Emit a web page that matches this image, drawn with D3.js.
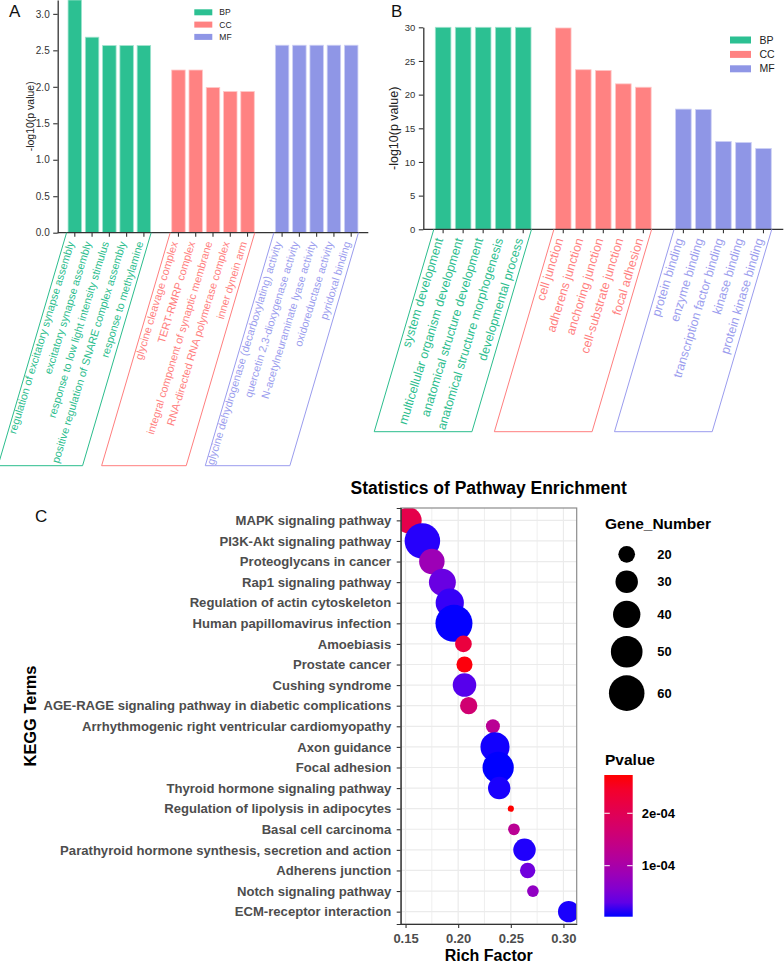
<!DOCTYPE html>
<html>
<head>
<meta charset="utf-8">
<script src="https://cdn.jsdelivr.net/npm/d3@7"></script>
<style>
  body { margin: 0; background: #fff; }
  text { font-family: "Liberation Sans", Arial, sans-serif; }
</style>
</head>
<body>
<div class="svg__graph"></div>
<script>
const width = 784;
const height = 962;

const goGroups = ['BP', 'CC', 'MF'];

// panel A values
const aTermsBP = ['regulation of excitatory synapse assembly', 'excitatory synapse assembly',
  'response to low light intensity stimulus', 'positive regulation of SNARE complex assembly',
  'response to methylamine'];
const aValuesBP = [3.19, 2.68, 2.565, 2.565, 2.565];
const aTermsCC = ['glycine cleavage complex', 'TERT-RMRP complex', 'integral component of synaptic membrane',
  'RNA-directed RNA polymerase complex', 'inner dynein arm'];
const aValuesCC = [2.23, 2.23, 1.99, 1.935, 1.935];
const aTermsMF = ['glycine dehydrogenase (decarboxylating) activity', 'quercetin 2,3-dioxygenase activity',
  'N-acetylneuraminate lyase activity', 'oxidoreductase activity', 'pyridoxal binding'];
const aValuesMF = [2.57, 2.57, 2.57, 2.57, 2.57];
const aYTicks = [0, 0.5, 1.0, 1.5, 2.0, 2.5, 3.0];

// panel B values
const bTermsBP = ['system development', 'multicellular organism development', 'anatomical structure development',
  'anatomical structure morphogenesis', 'developmental process'];
const bValuesBP = [30, 30, 30, 30, 30];
const bTermsCC = ['cell junction', 'adherens junction', 'anchoring junction', 'cell-substrate junction', 'focal adhesion'];
const bValuesCC = [29.9, 23.7, 23.6, 21.6, 21.1];
const bTermsMF = ['protein binding', 'enzyme binding', 'transcription factor binding', 'kinase binding',
  'protein kinase binding'];
const bValuesMF = [17.85, 17.8, 13.05, 12.9, 12.0];
const bYTicks = [0, 5, 10, 15, 20, 25, 30];

// panel C values
const keggTerms = ['MAPK signaling pathway', 'PI3K-Akt signaling pathway', 'Proteoglycans in cancer',
  'Rap1 signaling pathway', 'Regulation of actin cytoskeleton', 'Human papillomavirus infection',
  'Amoebiasis', 'Prostate cancer', 'Cushing syndrome',
  'AGE-RAGE signaling pathway in diabetic complications',
  'Arrhythmogenic right ventricular cardiomyopathy', 'Axon guidance', 'Focal adhesion',
  'Thyroid hormone signaling pathway', 'Regulation of lipolysis in adipocytes', 'Basal cell carcinoma',
  'Parathyroid hormone synthesis, secretion and action', 'Adherens junction', 'Notch signaling pathway',
  'ECM-receptor interaction'];
const richFactor = [0.153, 0.166, 0.175, 0.185, 0.192, 0.196, 0.205, 0.206, 0.206, 0.210,
  0.233, 0.235, 0.238, 0.239, 0.250, 0.253, 0.263, 0.266, 0.271, 0.305];
const geneNumber = [37, 60, 36, 39, 42, 64, 20, 19, 32, 21, 16, 44, 49, 30, 7, 13, 30, 18, 13, 28];
const pValue = [2.1e-4, 7e-6, 8.4e-5, 3.5e-5, 1.1e-5, 3e-6, 2.25e-4, 2.68e-4, 2.4e-5, 1.65e-4,
  1.24e-4, 4e-6, 2.7e-6, 5e-6, 2.73e-4, 1.25e-4, 6e-6, 4e-5, 7e-5, 5e-6];
const cXTicks = [0.15, 0.20, 0.25, 0.30];
const sizeBreaks = [20, 30, 40, 50, 60];
const pBreaks = [1e-4, 2e-4];

const groupColor = { BP: '#2CC092', CC: '#FF8282', MF: '#8F96E6' };
const groupTextColor = { BP: '#2BBD8D', CC: '#FF7E7E', MF: '#9A9CEE' };
const labelAngle = 73;
const bracketAngle = 73.6;

const svg = d3.select('div.svg__graph').append('svg')
  .attr('width', width)
  .attr('height', height)
  .style('background-color', 'white');

const drawGoPanel = (o) => {
  const rows = [];
  goGroups.forEach((g, gi) => {
    o.terms[gi].forEach((t, j) => {
      rows.push({ group: g, term: t, value: o.values[gi][j], slot: gi * 6 + j });
    });
  });

  const x = d3.scaleBand()
    .domain(d3.range(17))
    .range([o.x0, o.x1])
    .paddingInner(0.22)
    .paddingOuter(0.6);
  const y = d3.scaleLinear()
    .domain([0, o.yMax])
    .range([o.yBase, o.yTop]);
  const bw = x.bandwidth();

  const g = svg.append('g');

  g.selectAll('rect.bar')
    .data(rows)
    .enter()
    .append('rect')
    .attr('class', 'bar')
    .attr('x', d => x(d.slot))
    .attr('y', d => y(d.value))
    .attr('width', bw)
    .attr('height', d => o.yBase - y(d.value))
    .attr('fill', d => groupColor[d.group])
    .attr('stroke', d => d3.interpolateRgb(groupColor[d.group], '#ffffff')(0.55))
    .attr('stroke-width', 0.8);

  // y axis
  const yAxis = g.append('g')
    .attr('transform', `translate(${o.x0}, 0)`)
    .call(d3.axisLeft(y)
      .tickValues(o.yTicks)
      .tickSize(4.5)
      .tickPadding(3.5)
      .tickSizeOuter(0)
      .tickFormat(o.yFormat));
  yAxis.select('.domain').attr('stroke', '#333').attr('stroke-width', 1.3);
  yAxis.selectAll('.tick line').attr('stroke', '#333').attr('stroke-width', 1.1);
  yAxis.selectAll('.tick text')
    .attr('fill', '#333')
    .style('font-size', `${o.tickSize}px`)
    .style('font-family', '"Liberation Sans", Arial, sans-serif');

  // x axis line and ticks under the bars
  g.append('line')
    .attr('x1', o.x0)
    .attr('x2', o.x1)
    .attr('y1', o.yBase)
    .attr('y2', o.yBase)
    .attr('stroke', '#333')
    .attr('stroke-width', 1.3);
  g.selectAll('line.xtick')
    .data(rows)
    .enter()
    .append('line')
    .attr('class', 'xtick')
    .attr('x1', d => x(d.slot) + bw / 2)
    .attr('x2', d => x(d.slot) + bw / 2)
    .attr('y1', o.yBase)
    .attr('y2', o.yBase + 4)
    .attr('stroke', '#333')
    .attr('stroke-width', 1.1);

  g.append('text')
    .attr('transform', `translate(${o.titleX}, ${(o.yBase + o.yTop) / 2}) rotate(-90)`)
    .attr('text-anchor', 'middle')
    .attr('dy', '0.35em')
    .attr('fill', '#222')
    .style('font-size', `${o.titleSize}px`)
    .text('-log10(p value)');

  // rotated term labels
  g.selectAll('text.term')
    .data(rows)
    .enter()
    .append('text')
    .attr('class', 'term')
    .attr('transform', d => `translate(${x(d.slot) + bw / 2 + o.labelDx}, ${o.yBase + o.labelDy}) rotate(${-labelAngle})`)
    .attr('text-anchor', 'end')
    .attr('dy', '0.35em')
    .attr('fill', d => groupTextColor[d.group])
    .style('font-size', `${o.labelSize}px`)
    .text(d => d.term);

  // slanted brackets round each group of labels
  const shift = (o.bracketBottom - o.yBase) / Math.tan(bracketAngle * Math.PI / 180);
  goGroups.forEach((grp, gi) => {
    const left = x(gi * 6) - 1.5;
    const right = x(gi * 6 + 4) + bw + 0.5;
    g.append('path')
      .attr('d', `M${left},${o.yBase}L${left - shift},${o.bracketBottom}L${right - shift},${o.bracketBottom}L${right},${o.yBase}`)
      .attr('fill', 'none')
      .attr('stroke', groupTextColor[grp])
      .attr('stroke-width', 1);
  });

  // legend
  const legend = g.append('g');
  goGroups.forEach((grp, gi) => {
    legend.append('rect')
      .attr('x', o.legendX)
      .attr('y', o.legendY + gi * o.legendStep - o.legendRect[1] / 2)
      .attr('width', o.legendRect[0])
      .attr('height', o.legendRect[1])
      .attr('fill', groupColor[grp]);
    legend.append('text')
      .attr('x', o.legendX + o.legendRect[0] + o.legendGap)
      .attr('y', o.legendY + gi * o.legendStep)
      .attr('dy', '0.35em')
      .attr('fill', '#222')
      .style('font-size', `${o.legendSize}px`)
      .text(grp);
  });

  svg.append('text')
    .attr('x', o.letterX)
    .attr('y', 17)
    .attr('fill', '#111')
    .style('font-size', '17px')
    .text(o.letter);
};

drawGoPanel({
  terms: [aTermsBP, aTermsCC, aTermsMF],
  values: [aValuesBP, aValuesCC, aValuesMF],
  yTicks: aYTicks,
  yFormat: d3.format('.1f'),
  x0: 57.7, x1: 368.3, yBase: 232.7, yTop: 0, yMax: 3.19,
  tickSize: 10, titleSize: 10.5, titleX: 30,
  labelSize: 10.8, labelDx: -4, labelDy: 9,
  bracketBottom: 465.7,
  legendX: 194.3, legendY: 12.3, legendStep: 12.3, legendRect: [18, 6], legendGap: 7, legendSize: 8.5,
  letter: 'A', letterX: 9
});

drawGoPanel({
  terms: [bTermsBP, bTermsCC, bTermsMF],
  values: [bValuesBP, bValuesCC, bValuesMF],
  yTicks: bYTicks,
  yFormat: d3.format('d'),
  x0: 423.3, x1: 783.3, yBase: 229.3, yTop: 27.3, yMax: 30,
  tickSize: 9.5, titleSize: 12.5, titleX: 394,
  labelSize: 12.4, labelDx: -4, labelDy: 9,
  bracketBottom: 431.7,
  legendX: 730, legendY: 40, legendStep: 14.4, legendRect: [21, 7], legendGap: 8.5, legendSize: 10.5,
  letter: 'B', letterX: 391
});

// ---------- panel C: KEGG bubble chart ----------
const pan = { left: 400.7, right: 576.7, top: 508, bottom: 924 };

const rfExtent = d3.extent(richFactor);
const rfPad = (rfExtent[1] - rfExtent[0]) * 0.05;
const xC = d3.scaleLinear()
  .domain([rfExtent[0] - rfPad, rfExtent[1] + rfPad])
  .range([pan.left, pan.right]);
const yC = d3.scalePoint()
  .domain(keggTerms)
  .range([pan.top, pan.bottom])
  .padding(0.6);

const geneExtent = d3.extent(geneNumber);
const rScale = d3.scaleLinear()
  .domain([Math.sqrt(geneExtent[0]), Math.sqrt(geneExtent[1])])
  .range([3.1, 18.5]);
const radius = n => rScale(Math.sqrt(n));

const pExtent = d3.extent(pValue);
const colorC = d3.scaleLinear()
  .domain(pExtent)
  .range(['#0000FF', '#FF0000'])
  .interpolate(d3.interpolateLab);

const cG = svg.append('g');

cG.append('rect')
  .attr('x', pan.left)
  .attr('y', pan.top)
  .attr('width', pan.right - pan.left)
  .attr('height', pan.bottom - pan.top)
  .attr('fill', 'white');

// minor grid halfway between the x breaks
const minorX = d3.range(cXTicks.length - 1).map(i => (cXTicks[i] + cXTicks[i + 1]) / 2);
cG.selectAll('line.minor')
  .data(minorX)
  .enter()
  .append('line')
  .attr('x1', d => xC(d))
  .attr('x2', d => xC(d))
  .attr('y1', pan.top)
  .attr('y2', pan.bottom)
  .attr('stroke', '#EBEBEB')
  .attr('stroke-width', 0.8);
cG.selectAll('line.vmajor')
  .data(cXTicks)
  .enter()
  .append('line')
  .attr('x1', d => xC(d))
  .attr('x2', d => xC(d))
  .attr('y1', pan.top)
  .attr('y2', pan.bottom)
  .attr('stroke', '#EBEBEB')
  .attr('stroke-width', 1.2);
cG.selectAll('line.hmajor')
  .data(keggTerms)
  .enter()
  .append('line')
  .attr('x1', pan.left)
  .attr('x2', pan.right)
  .attr('y1', d => yC(d))
  .attr('y2', d => yC(d))
  .attr('stroke', '#EBEBEB')
  .attr('stroke-width', 1.2);

cG.append('clipPath')
  .attr('id', 'panel-clip')
  .append('rect')
  .attr('x', pan.left)
  .attr('y', pan.top)
  .attr('width', pan.right - pan.left)
  .attr('height', pan.bottom - pan.top);

const bubbles = keggTerms.map((t, i) => ({
  term: t, rf: richFactor[i], genes: geneNumber[i], p: pValue[i]
}));

cG.append('g')
  .attr('clip-path', 'url(#panel-clip)')
  .selectAll('circle')
  .data(bubbles)
  .enter()
  .append('circle')
  .attr('cx', d => xC(d.rf))
  .attr('cy', d => yC(d.term))
  .attr('r', d => radius(d.genes))
  .attr('fill', d => colorC(d.p));

cG.append('rect')
  .attr('x', pan.left)
  .attr('y', pan.top)
  .attr('width', pan.right - pan.left)
  .attr('height', pan.bottom - pan.top)
  .attr('fill', 'none')
  .attr('stroke', '#8C8C8C')
  .attr('stroke-width', 1.2);

const yAxisC = cG.append('g')
  .attr('transform', `translate(${pan.left}, 0)`)
  .call(d3.axisLeft(yC).tickSize(4).tickPadding(5.5));
yAxisC.select('.domain').attr('stroke', '#333').attr('stroke-width', 1.2);
yAxisC.selectAll('.tick line').attr('stroke', '#333').attr('stroke-width', 1.1);
yAxisC.selectAll('.tick text')
  .attr('fill', '#4D4D4D')
  .style('font-size', '13.1px')
  .style('font-weight', 'bold')
  .style('font-family', '"Liberation Sans", Arial, sans-serif');

const xAxisC = cG.append('g')
  .attr('transform', `translate(0, ${pan.bottom})`)
  .call(d3.axisBottom(xC)
    .tickValues(cXTicks)
    .tickFormat(d3.format('.2f'))
    .tickSize(4)
    .tickPadding(5.5)
    .tickSizeOuter(0));
xAxisC.select('.domain').attr('stroke', '#333').attr('stroke-width', 1.2);
xAxisC.selectAll('.tick line').attr('stroke', '#333').attr('stroke-width', 1.1);
xAxisC.selectAll('.tick text')
  .attr('fill', '#4D4D4D')
  .style('font-size', '13px')
  .style('font-weight', 'bold')
  .style('font-family', '"Liberation Sans", Arial, sans-serif');

cG.append('text')
  .attr('x', (pan.left + pan.right) / 2)
  .attr('y', 494)
  .attr('text-anchor', 'middle')
  .style('font-size', '17.5px')
  .style('font-weight', 'bold')
  .text('Statistics of Pathway Enrichment');

cG.append('text')
  .attr('x', (pan.left + pan.right) / 2)
  .attr('y', 960.5)
  .attr('text-anchor', 'middle')
  .style('font-size', '16px')
  .style('font-weight', 'bold')
  .text('Rich Factor');

cG.append('text')
  .attr('transform', `translate(30, ${(pan.top + pan.bottom) / 2}) rotate(-90)`)
  .attr('text-anchor', 'middle')
  .attr('dy', '0.35em')
  .style('font-size', '16.4px')
  .style('font-weight', 'bold')
  .text('KEGG Terms');

svg.append('text')
  .attr('x', 35)
  .attr('y', 522)
  .attr('fill', '#111')
  .style('font-size', '17px')
  .text('C');

// size legend
const sizeLegend = svg.append('g');
sizeLegend.append('text')
  .attr('x', 605)
  .attr('y', 529.3)
  .style('font-size', '15.5px')
  .style('font-weight', 'bold')
  .text('Gene_Number');

let keyY = 554.3;
sizeBreaks.forEach((n, i) => {
  if (i > 0) keyY += radius(sizeBreaks[i - 1]) + radius(n) + 7.8;
  sizeLegend.append('circle')
    .attr('cx', 626.7)
    .attr('cy', keyY)
    .attr('r', radius(n))
    .attr('fill', 'black');
  sizeLegend.append('text')
    .attr('x', 657.3)
    .attr('y', keyY)
    .attr('dy', '0.35em')
    .style('font-size', '12.9px')
    .style('font-weight', 'bold')
    .text(n);
});

// colour bar legend
const bar = { x: 604.3, y: 775, w: 28.4, h: 141.7 };
const barScale = d3.scaleLinear().domain(pExtent).range([bar.y + bar.h, bar.y]);
const grad = svg.append('defs').append('linearGradient')
  .attr('id', 'pgrad')
  .attr('x1', '0%').attr('y1', '100%')
  .attr('x2', '0%').attr('y2', '0%');
d3.range(0, 1.0001, 0.1).forEach(t => {
  grad.append('stop')
    .attr('offset', `${t * 100}%`)
    .attr('stop-color', colorC(pExtent[0] + t * (pExtent[1] - pExtent[0])));
});

const pLegend = svg.append('g');
pLegend.append('text')
  .attr('x', 605)
  .attr('y', 765)
  .style('font-size', '15.5px')
  .style('font-weight', 'bold')
  .text('Pvalue');
pLegend.append('rect')
  .attr('x', bar.x)
  .attr('y', bar.y)
  .attr('width', bar.w)
  .attr('height', bar.h)
  .attr('fill', 'url(#pgrad)');
pBreaks.forEach(p => {
  const yy = barScale(p);
  pLegend.append('line')
    .attr('x1', bar.x).attr('x2', bar.x + 5.5)
    .attr('y1', yy).attr('y2', yy)
    .attr('stroke', 'white').attr('stroke-width', 1);
  pLegend.append('line')
    .attr('x1', bar.x + bar.w - 5.5).attr('x2', bar.x + bar.w)
    .attr('y1', yy).attr('y2', yy)
    .attr('stroke', 'white').attr('stroke-width', 1);
  pLegend.append('text')
    .attr('x', 641.7)
    .attr('y', yy)
    .attr('dy', '0.35em')
    .style('font-size', '13px')
    .style('font-weight', 'bold')
    .text(d3.format('.0e')(p).replace('e-4', 'e-04'));
});
</script>
</body>
</html>
